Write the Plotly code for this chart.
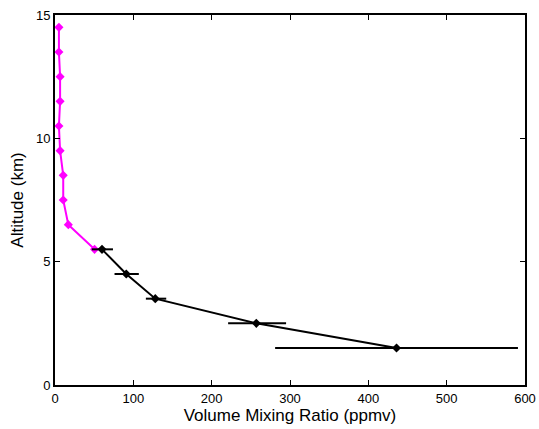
import plotly.graph_objects as go

# Magenta profile (upper altitudes)
alt_upper = [14.5, 13.5, 12.5, 11.5, 10.5, 9.5, 8.5, 7.5, 6.5, 5.5]
vmr_upper = [5, 5, 6.5, 6.5, 5, 6.5, 10.5, 10.5, 17, 50.5]

# Black profile (lower altitudes) with horizontal error bars
alt_lower = [5.5, 4.5, 3.5, 2.5, 1.5]
vmr_lower = [60, 91, 128, 257, 436]
err_plus = [14, 16, 14, 38, 155]
err_minus = [13, 15, 12, 36, 155]

x_ticks = [0, 100, 200, 300, 400, 500, 600]
y_ticks = [0, 5, 10, 15]

FONT = "Liberation Sans, Arial, Helvetica"

fig = go.Figure()
fig.add_trace(go.Scatter(
    x=vmr_upper, y=alt_upper, mode="lines+markers",
    line=dict(color="#ff00ff", width=2),
    marker=dict(symbol="diamond", size=7, color="#ff00ff"),
    showlegend=False, cliponaxis=False))
fig.add_trace(go.Scatter(
    x=vmr_lower, y=alt_lower, mode="lines+markers",
    line=dict(color="black", width=2),
    marker=dict(symbol="diamond", size=7, color="black"),
    error_x=dict(type="data", symmetric=False, array=err_plus, arrayminus=err_minus,
                 color="black", thickness=2, width=0),
    showlegend=False))

axis_common = dict(showline=True, linecolor="black", linewidth=2, mirror="ticks",
                   ticks="inside", ticklen=5, tickcolor="black", tickwidth=1.2,
                   showgrid=False, zeroline=False, automargin=False,
                   tickfont=dict(family=FONT, size=13, color="black"))
fig.update_xaxes(range=[0, 600], tickvals=x_ticks,
                 title=dict(text="Volume Mixing Ratio (ppmv)", font=dict(family=FONT, size=17, color="black"), standoff=0),
                 **axis_common)
fig.update_yaxes(range=[0, 15.0001], tickvals=y_ticks,
                 title=dict(text="Altitude (km)", font=dict(family=FONT, size=17, color="black"), standoff=8),
                 **axis_common)
fig.update_layout(width=539, height=429, margin=dict(l=55, r=14, t=15, b=44),
                  plot_bgcolor="white", paper_bgcolor="white")
fig.write_html("out.html", config={"displayModeBar": False},
               post_script="document.body.style.margin='0';document.body.style.overflow='hidden';")
